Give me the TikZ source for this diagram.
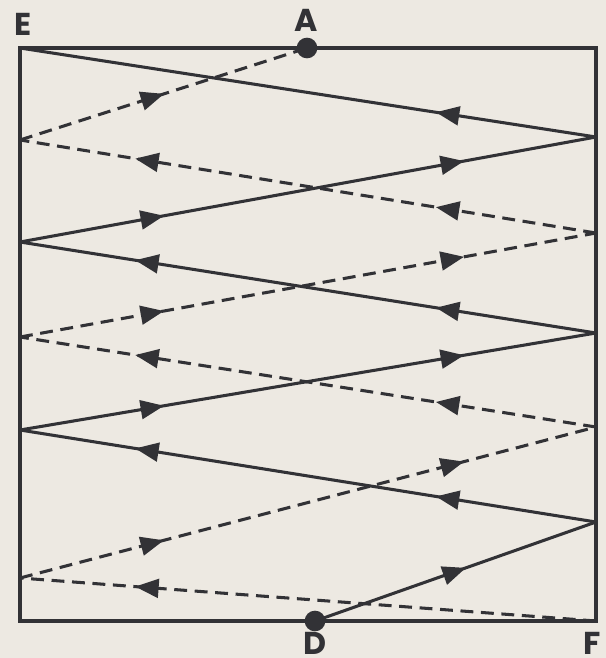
\documentclass[tikz,border=0pt]{standalone}
\usepackage{fontspec}
\setmainfont{Poppins}
\usetikzlibrary{arrows.meta,decorations.markings}
\definecolor{paper}{RGB}{237,233,226}
\definecolor{ink}{RGB}{50,50,54}
\tikzset{
  wall/.style={draw=ink, line width=3pt, line join=miter},
  ray/.style={draw=ink, line width=2.6pt, line cap=butt},
  dray/.style={ray, dash pattern=on 11pt off 6.5pt},
  ar/.style={postaction={decorate, decoration={markings,
      mark=at position #1 with {\arrow{Triangle[length=20pt,width=16pt]}}}}},
  dot/.style={circle, fill=ink, inner sep=0pt, minimum size=0.62cm},
  lab/.style={text=ink, inner sep=0pt, font=\fontsize{27}{30}\selectfont\bfseries},
}
\begin{document}
\begin{tikzpicture}[x=0.03cm, y=-0.03cm]
\fill[paper] (0,0) rectangle (606,658);
\useasboundingbox (0,0) rectangle (606,658);
% corners
\coordinate (E) at (20,48);
\coordinate (F) at (596,621);
\coordinate (TR) at (596,48);
\coordinate (BL) at (20,621);
\coordinate (Apos) at (307,48);
\coordinate (Dpos) at (315,621);
% solid path vertices
\coordinate (R1) at (596,137);
\coordinate (L2) at (20,242);
\coordinate (R3) at (596,333);
\coordinate (L4) at (20,430);
\coordinate (R5) at (596,522);
% dashed path vertices
\coordinate (L1) at (20,140);
\coordinate (R2) at (596,233);
\coordinate (L3) at (20,337);
\coordinate (R4) at (596,427);
\coordinate (L5) at (20,578);
% frame
\draw[wall] (E) -- (TR) -- (F) -- (BL) -- cycle;
% solid rays
\draw[ray, ar=0.537] (Dpos) -- (R5);
\draw[ray, ar=0.278, ar=0.800] (R5) -- (L4);
\draw[ray, ar=0.25, ar=0.771] (L4) -- (R3);
\draw[ray, ar=0.278, ar=0.800] (R3) -- (L2);
\draw[ray, ar=0.25, ar=0.771] (L2) -- (R1);
\draw[ray, ar=0.278] (R1) -- (E);
% dashed rays
\draw[dray, ar=0.800] (F) -- (L5);
\draw[dray, ar=0.25, ar=0.771] (L5) -- (R4);
\draw[dray, ar=0.278, ar=0.800] (R4) -- (L3);
\draw[dray, ar=0.25, ar=0.771] (L3) -- (R2);
\draw[dray, ar=0.278, ar=0.800] (R2) -- (L1);
\draw[dray, ar=0.502] (L1) -- (Apos);
% dots
\node[dot] (A) at (Apos) {};
\node[dot] (D) at (Dpos) {};
% labels
\node[lab] (lE) at (23,24) {E};
\node[lab] (lA) at (306,20) {A};
\node[lab] (lD) at (315,643) {D};
\node[lab] (lF) at (592,643) {F};
\end{tikzpicture}
\end{document}
